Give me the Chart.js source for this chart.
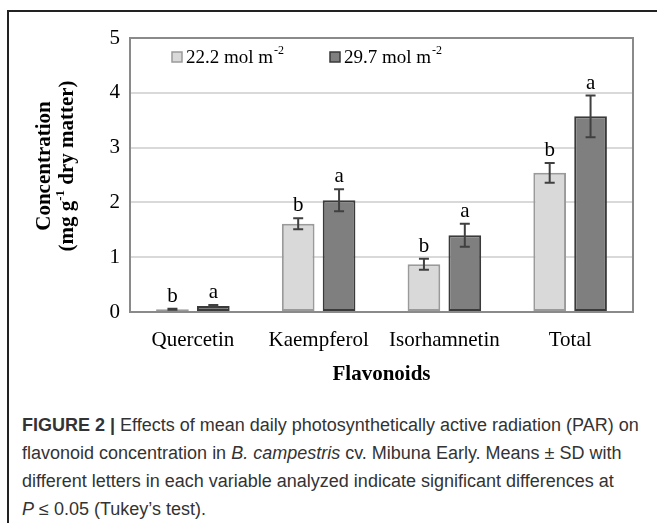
<!DOCTYPE html>
<html><head><meta charset="utf-8">
<script src="https://cdn.jsdelivr.net/npm/chart.js@4"></script>
<style>
html,body{margin:0;padding:0;background:#fff;width:657px;height:523px;overflow:hidden;}
#frame{position:absolute;left:7px;top:10px;width:660px;height:600px;border-left:2px solid #222;border-top:2px solid #222;}
#wrap{position:absolute;left:0;top:0;width:657px;height:400px;}
#cap{position:absolute;left:22px;top:411px;font-family:'Liberation Sans',Arial,sans-serif;font-size:18px;line-height:28px;color:#333;white-space:nowrap;}
</style></head><body>
<div id="frame"></div>
<div id="wrap"><canvas id="c" width="657" height="400"></canvas></div>
<div id="cap">
<div><b>FIGURE 2 |</b> Effects of mean daily photosynthetically active radiation (PAR) on</div>
<div>flavonoid concentration in <i>B. campestris</i> cv. Mibuna Early. Means ± SD with</div>
<div>different letters in each variable analyzed indicate significant differences at</div>
<div><i>P</i> ≤ 0.05 (Tukey’s test).</div>
</div>
<script>
const categories = ['Quercetin', 'Kaempferol', 'Isorhamnetin', 'Total'];
const legendBase = ['22.2 mol m', '29.7 mol m'];
const legendSup = ['-2', '-2'];
const low = [0.05, 1.61, 0.87, 2.54];
const high = [0.11, 2.04, 1.40, 3.57];
const lowSD = [0.01, 0.10, 0.10, 0.18];
const highSD = [0.02, 0.20, 0.21, 0.38];
const lowLetters = ['b', 'b', 'b', 'b'];
const highLetters = ['a', 'a', 'a', 'a'];
const yTicks = [0, 1, 2, 3, 4, 5];
const yTitleLine1 = 'Concentration';
const yTitleLine2 = ['(mg g', '-1', ' dry matter)'];
const xTitle = 'Flavonoids';

const SERIF = "'Liberation Serif','Times New Roman',serif";

const plotBorder = {
  id: 'plotBorder',
  afterDraw(chart) {
    const {ctx, chartArea: a} = chart;
    ctx.save();
    ctx.strokeStyle = '#8a8a8a';
    ctx.lineWidth = 2;
    ctx.strokeRect(a.left, a.top, a.right - a.left, a.bottom - a.top);
    ctx.restore();
  }
};

const yTitle = {
  id: 'yTitle',
  afterDraw(chart) {
    const ctx = chart.ctx;
    const yc = 166;
    ctx.save();
    ctx.fillStyle = '#000';
    ctx.textBaseline = 'middle';
    // line 1
    ctx.save();
    ctx.translate(45, yc);
    ctx.rotate(-Math.PI / 2);
    ctx.font = 'bold 21px ' + SERIF;
    ctx.textAlign = 'center';
    ctx.fillText(yTitleLine1, 0, 0);
    ctx.restore();
    // line 2 with superscript
    ctx.save();
    ctx.translate(68, yc);
    ctx.rotate(-Math.PI / 2);
    ctx.textAlign = 'left';
    ctx.font = 'bold 21px ' + SERIF;
    const w1 = ctx.measureText(yTitleLine2[0]).width;
    const w3 = ctx.measureText(yTitleLine2[2]).width;
    ctx.font = 'bold 13px ' + SERIF;
    const w2 = ctx.measureText(yTitleLine2[1]).width;
    let x = -(w1 + w2 + w3) / 2;
    ctx.font = 'bold 21px ' + SERIF;
    ctx.fillText(yTitleLine2[0], x, 0);
    x += w1;
    ctx.font = 'bold 13px ' + SERIF;
    ctx.fillText(yTitleLine2[1], x, -7);
    x += w2;
    ctx.font = 'bold 21px ' + SERIF;
    ctx.fillText(yTitleLine2[2], x, 0);
    ctx.restore();
    ctx.restore();
  }
};

const errorBars = {
  id: 'errorBars',
  afterDatasetsDraw(chart) {
    const ctx = chart.ctx, ys = chart.scales.y;
    ctx.save();
    chart.data.datasets.forEach((ds, i) => {
      const meta = chart.getDatasetMeta(i);
      meta.data.forEach((bar, j) => {
        const v = ds.data[j], sd = ds.sd[j];
        const yt = ys.getPixelForValue(v + sd), yb = ys.getPixelForValue(v - sd);
        ctx.strokeStyle = '#404040';
        ctx.lineWidth = 2;
        ctx.beginPath();
        ctx.moveTo(bar.x, yt); ctx.lineTo(bar.x, yb);
        ctx.moveTo(bar.x - 5, yt); ctx.lineTo(bar.x + 5, yt);
        ctx.moveTo(bar.x - 5, yb); ctx.lineTo(bar.x + 5, yb);
        ctx.stroke();
        ctx.fillStyle = '#000';
        ctx.font = '21px ' + SERIF;
        ctx.textAlign = 'center';
        ctx.textBaseline = 'alphabetic';
        ctx.fillText(ds.letters[j], bar.x, yt - 7);
      });
    });
    ctx.restore();
  }
};

const customLegend = {
  id: 'customLegend',
  afterDraw(chart) {
    const ctx = chart.ctx;
    const xs = [172, 330];
    const yc = 57;
    ctx.save();
    chart.data.datasets.forEach((ds, i) => {
      const x = xs[i];
      ctx.fillStyle = ds.backgroundColor;
      ctx.fillRect(x, yc - 5, 10, 10);
      ctx.strokeStyle = ds.borderColor;
      ctx.lineWidth = 1.5;
      ctx.strokeRect(x, yc - 5, 10, 10);
      ctx.fillStyle = '#000';
      ctx.font = '19px ' + SERIF;
      ctx.textAlign = 'left';
      ctx.textBaseline = 'middle';
      const tx = x + 14;
      ctx.fillText(legendBase[i], tx, yc + 1);
      const w = ctx.measureText(legendBase[i]).width;
      ctx.font = '12px ' + SERIF;
      ctx.fillText(legendSup[i], tx + w + 1, yc - 6);
    });
    ctx.restore();
  }
};

new Chart(document.getElementById('c'), {
  type: 'bar',
  data: {
    labels: categories,
    datasets: [
      {label: legendBase[0] + '⁻²', data: low, sd: lowSD, letters: lowLetters,
       backgroundColor: '#d9d9d9', borderColor: '#9a9a9a', borderWidth: 2, borderSkipped: false,
       categoryPercentage: 0.65, barPercentage: 0.8},
      {label: legendBase[1] + '⁻²', data: high, sd: highSD, letters: highLetters,
       backgroundColor: '#7f7f7f', borderColor: '#3a3a3a', borderWidth: 2, borderSkipped: false,
       categoryPercentage: 0.65, barPercentage: 0.8}
    ]
  },
  options: {
    responsive: false,
    animation: false,
    devicePixelRatio: 1,
    layout: {padding: {left: 34, top: 38, right: 24, bottom: 0}},
    plugins: {legend: {display: false}, tooltip: {enabled: false}},
    scales: {
      x: {
        grid: {display: false, drawTicks: false},
        border: {display: true, color: '#8a8a8a', width: 2},
        ticks: {color: '#000', font: {family: SERIF, size: 21}, padding: 16},
        title: {display: true, text: xTitle, color: '#000',
                font: {family: SERIF, size: 21, weight: 'bold', lineHeight: 1.2}, padding: {top: 0, bottom: 13}},
        afterFit(s) { s.height = 88; }
      },
      y: {
        min: 0, max: 5,
        afterBuildTicks(s) { s.ticks = yTicks.map(v => ({value: v})); },
        grid: {color: '#d9d9d9', lineWidth: 2, drawTicks: false},
        border: {display: true, color: '#8a8a8a', width: 2},
        ticks: {color: '#000', font: {family: SERIF, size: 21}, padding: 10},
        title: {display: false},
        afterFit(s) { s.width = 96; }
      }
    }
  },
  plugins: [plotBorder, errorBars, customLegend, yTitle]
});
</script>
</body></html>
